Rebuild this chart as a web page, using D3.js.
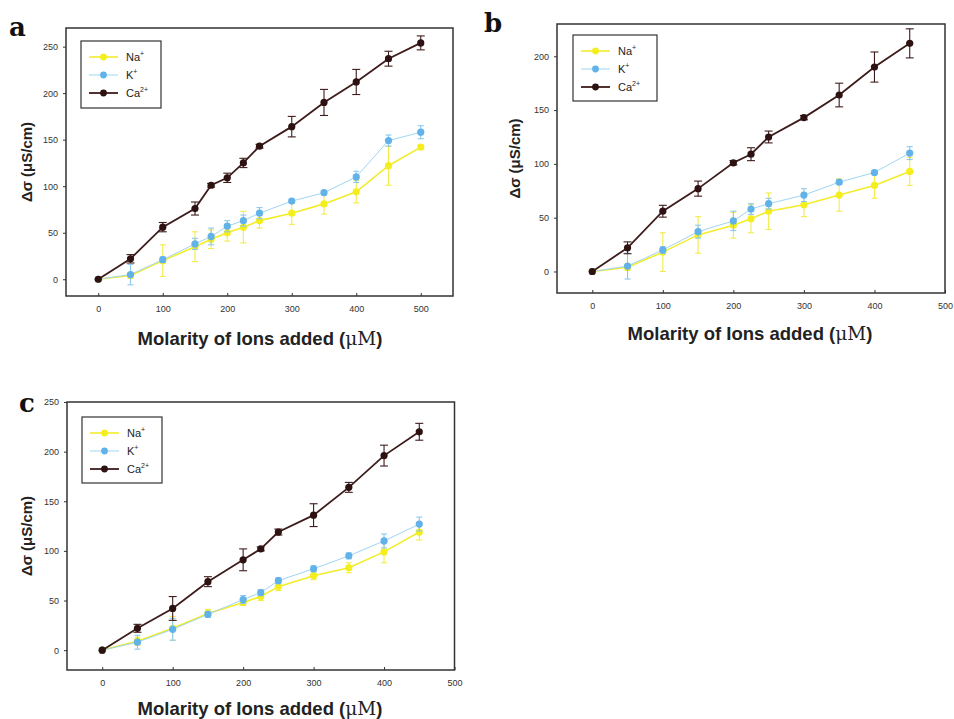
<!DOCTYPE html>
<html>
<head>
<meta charset="utf-8">
<script src="https://cdn.jsdelivr.net/npm/d3@7/dist/d3.min.js"></script>
<style>
  html, body { margin: 0; padding: 0; background: #fff; }
  svg { display: block; }
</style>
</head>
<body>
<svg id="fig" width="954" height="719"></svg>
<script>
// Conductivity change vs. added ion concentration, three experiments (a, b, c)

// Panel a
const aConc   = [0, 50, 100, 150, 175, 200, 225, 250, 300, 350, 400, 450, 500];
const aNa     = [0, 4, 20, 35, 43, 50, 56, 63, 71, 81, 94, 122, 142];
const aNaErr  = [0, 3, 17, 16, 10, 9, 17, 8, 12, 11, 12, 21, 2];
const aK      = [0, 5, 21, 38, 46, 57, 63, 71, 84, 93, 110, 149, 158];
const aKErr   = [0, 11, 3, 6, 9, 6, 6, 6, 2, 2, 6, 6, 7];
const aCa     = [0, 22, 56, 76, 101, 109, 125, 143, 164, 190, 212, 237, 254];
const aCaErr  = [0, 4.5, 5, 7, 2, 5, 5, 2, 11, 14, 13.5, 8, 7.5];
const aXTicks = [0, 100, 200, 300, 400, 500];
const aYTicks = [0, 50, 100, 150, 200, 250];

// Panel b
const bConc   = [0, 50, 100, 150, 200, 225, 250, 300, 350, 400, 450];
const bNa     = [0, 4, 18, 34, 43, 49, 56, 62, 71, 80, 93];
const bNaErr  = [0, 3, 18, 17, 12, 13, 17, 11, 15, 12, 13];
const bK      = [0, 5, 20, 37, 47, 58, 63, 71, 83, 92, 110];
const bKErr   = [0, 12, 3, 6, 9, 5, 5, 6, 2, 2, 6];
const bCa     = [0, 22, 56, 77, 101, 109, 125, 143, 164, 190, 212];
const bCaErr  = [0, 5.5, 5.5, 7, 2, 6, 5.5, 2, 11, 14, 13.5];
const bXTicks = [0, 100, 200, 300, 400, 500];
const bYTicks = [0, 50, 100, 150, 200];

// Panel c
const cConc   = [0, 50, 100, 150, 200, 225, 250, 300, 350, 400, 450];
const cNa     = [0, 9, 22, 37, 48, 54, 64, 75, 83, 99, 119];
const cNaErr  = [0, 4, 12, 4, 3, 4, 4, 4, 5, 11, 8];
const cK      = [0, 8, 21, 36, 51, 58, 70, 82, 95, 110, 127];
const cKErr   = [0, 7, 11, 3, 4, 3, 3, 3, 3, 7, 7];
const cCa     = [0, 22, 42, 69, 91, 102, 119, 136, 164, 196, 220];
const cCaErr  = [0, 4, 12, 5, 11, 2, 3, 11.5, 5, 10.5, 8.5];
const cXTicks = [0, 100, 200, 300, 400, 500];
const cYTicks = [0, 50, 100, 150, 200, 250];

const ionNames = ["Na", "K", "Ca"];
const ionCharges = ["+", "+", "2+"];

// Visual style per ion
const ionStyle = {
  Na: { line: "#f2ec2a", lineWidth: 1.6, dot: "#f4ee1c", err: "#f2ec4a", cap: 3 },
  K:  { line: "#9fd6f2", lineWidth: 1.0, dot: "#62b2ea", err: "#8cc8ee", cap: 3 },
  Ca: { line: "#3e1c1c", lineWidth: 1.8, dot: "#2e1212", err: "#3e1c1c", cap: 4 }
};

const svg = d3.select("#fig");
const axisColor = "#333";
const sans = "'Liberation Sans', Arial, sans-serif";
const serif = "'DejaVu Serif', 'Liberation Serif', serif";

function drawPanel(p) {
  const x = d3.scaleLinear().domain(p.xDomain).range([p.left, p.right]);
  const y = d3.scaleLinear().domain(p.yDomain).range([p.bottom, p.top]);
  const g = svg.append("g");

  // x axis: ticks point into the plot
  const xAxis = d3.axisBottom(x).tickValues(p.xTicks).tickSizeInner(-3).tickSizeOuter(0).tickPadding(10);
  const gx = g.append("g").attr("transform", `translate(0,${p.bottom})`).call(xAxis);
  gx.select(".domain").remove();
  gx.selectAll("line").attr("stroke", axisColor).attr("stroke-width", 1);
  gx.selectAll("text").attr("font-family", sans).attr("font-size", 9).attr("fill", axisColor);

  // y axis
  const yAxis = d3.axisLeft(y).tickValues(p.yTicks).tickSizeInner(3).tickSizeOuter(0).tickPadding(5);
  const gy = g.append("g").attr("transform", `translate(${p.left},0)`).call(yAxis);
  gy.select(".domain").remove();
  gy.selectAll("line").attr("stroke", axisColor).attr("stroke-width", 1);
  gy.selectAll("text").attr("font-family", sans).attr("font-size", 9).attr("fill", axisColor);

  // frame
  g.append("rect")
    .attr("x", p.left).attr("y", p.top)
    .attr("width", p.right - p.left).attr("height", p.bottom - p.top)
    .attr("fill", "none").attr("stroke", axisColor).attr("stroke-width", 1.5);

  // series
  p.series.forEach(s => {
    const st = ionStyle[s.ion];
    const pts = p.conc.map((c, i) => ({ c, v: s.values[i], e: s.err[i] }));
    const sg = g.append("g");
    sg.append("path").datum(pts)
      .attr("fill", "none").attr("stroke", st.line).attr("stroke-width", st.lineWidth)
      .attr("d", d3.line().x(d => x(d.c)).y(d => y(d.v)));
    const eb = sg.selectAll(".eb").data(pts.filter(d => d.e > 0)).join("g");
    eb.append("line")
      .attr("x1", d => x(d.c)).attr("x2", d => x(d.c))
      .attr("y1", d => y(d.v - d.e)).attr("y2", d => y(d.v + d.e))
      .attr("stroke", st.err).attr("stroke-width", 1.1);
    [1, -1].forEach(sign => {
      eb.append("line")
        .attr("x1", d => x(d.c) - st.cap).attr("x2", d => x(d.c) + st.cap)
        .attr("y1", d => y(d.v + sign * d.e)).attr("y2", d => y(d.v + sign * d.e))
        .attr("stroke", st.err).attr("stroke-width", 1.1);
    });
    sg.selectAll("circle").data(pts).join("circle")
      .attr("cx", d => x(d.c)).attr("cy", d => y(d.v)).attr("r", 3.6)
      .attr("fill", st.dot);
  });

  // legend
  const L = p.legend;
  g.append("rect").attr("x", L.x).attr("y", L.y).attr("width", L.w).attr("height", L.h)
    .attr("fill", "#fff").attr("stroke", axisColor).attr("stroke-width", 1.2);
  ionNames.forEach((ion, i) => {
    const st = ionStyle[ion];
    const yy = L.y + 16 + i * 18;
    const lx = L.x + 8;
    g.append("line").attr("x1", lx).attr("x2", lx + 29).attr("y1", yy).attr("y2", yy)
      .attr("stroke", st.line).attr("stroke-width", st.lineWidth);
    g.append("circle").attr("cx", lx + 14.5).attr("cy", yy).attr("r", 3.4).attr("fill", st.dot);
    const t = g.append("text").attr("x", lx + 37).attr("y", yy + 4)
      .attr("font-family", sans).attr("font-size", 11).attr("fill", "#222");
    t.append("tspan").text(ion);
    t.append("tspan").attr("dy", -5).attr("font-size", 7).text(ionCharges[i]);
  });

  // axis titles
  svg.append("text")
    .attr("transform", `translate(${p.yTitleX},${(p.top + p.bottom) / 2}) rotate(-90)`)
    .attr("text-anchor", "middle").attr("font-family", sans).attr("font-weight", "bold")
    .attr("font-size", 15).attr("fill", "#222")
    .text("Δσ (μS/cm)");
  const xt = svg.append("text")
    .attr("x", p.xTitleX).attr("y", p.xTitleY)
    .attr("text-anchor", "middle").attr("font-family", sans).attr("font-weight", "bold")
    .attr("font-size", 18.5).attr("fill", "#222");
  xt.append("tspan").text("Molarity of Ions added (");
  xt.append("tspan").attr("font-family", serif).attr("font-weight", "normal").text("μM");
  xt.append("tspan").text(")");

  // panel letter
  svg.append("text").attr("x", p.letterX).attr("y", p.letterY)
    .attr("font-family", serif).attr("font-weight", "bold").attr("font-size", 26)
    .attr("fill", "#111").text(p.letter);
}

drawPanel({
  letter: "a", letterX: 9, letterY: 36,
  left: 66, right: 453, top: 28, bottom: 296,
  xDomain: [-50, 550], yDomain: [-18, 270],
  xTicks: aXTicks, yTicks: aYTicks, conc: aConc,
  series: [
    { ion: "Na", values: aNa, err: aNaErr },
    { ion: "K", values: aK, err: aKErr },
    { ion: "Ca", values: aCa, err: aCaErr }
  ],
  legend: { x: 81, y: 41, w: 80, h: 67 },
  yTitleX: 32, xTitleX: 260, xTitleY: 345
});

drawPanel({
  letter: "b", letterX: 484, letterY: 32,
  left: 557, right: 945, top: 24, bottom: 293,
  xDomain: [-50, 500], yDomain: [-20, 230],
  xTicks: bXTicks, yTicks: bYTicks, conc: bConc,
  series: [
    { ion: "Na", values: bNa, err: bNaErr },
    { ion: "K", values: bK, err: bKErr },
    { ion: "Ca", values: bCa, err: bCaErr }
  ],
  legend: { x: 573, y: 35, w: 84, h: 66 },
  yTitleX: 520, xTitleX: 750, xTitleY: 340
});

drawPanel({
  letter: "c", letterX: 19, letterY: 412,
  left: 67, right: 454.5, top: 402, bottom: 670,
  xDomain: [-50, 500], yDomain: [-20, 250],
  xTicks: cXTicks, yTicks: cYTicks, conc: cConc,
  series: [
    { ion: "Na", values: cNa, err: cNaErr },
    { ion: "K", values: cK, err: cKErr },
    { ion: "Ca", values: cCa, err: cCaErr }
  ],
  legend: { x: 82, y: 417, w: 80, h: 66 },
  yTitleX: 32, xTitleX: 260, xTitleY: 715
});
</script>
</body>
</html>
